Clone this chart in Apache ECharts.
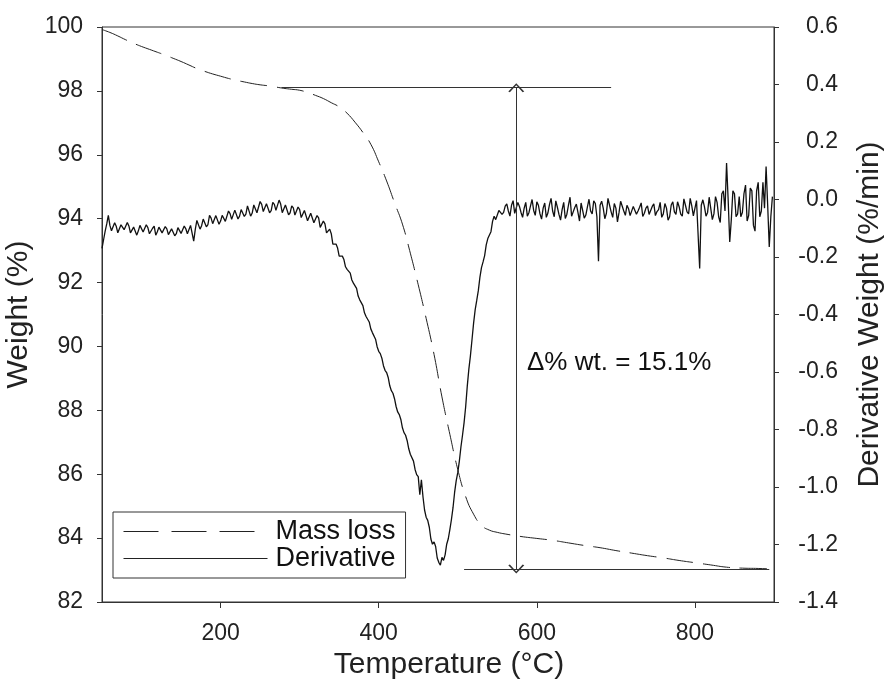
<!DOCTYPE html>
<html>
<head>
<meta charset="utf-8">
<script src="https://cdn.jsdelivr.net/npm/echarts@6/dist/echarts.min.js"></script>
<style>
  html, body { margin: 0; padding: 0; background: #fff; }
  #chart { width: 888px; height: 692px; }
</style>
</head>
<body>
<div id="chart"></div>
<script>
// mass loss curve (dashed), weight % vs temperature
const massTemps = [50, 60, 70, 80, 90, 100, 110, 120, 130, 140, 150, 160, 170, 180, 190, 200,
  210, 220, 230, 240, 250, 260, 270, 280, 290, 300, 310, 320, 330, 340, 350, 360, 370, 380,
  390, 400, 410, 420, 430, 440, 450, 460, 470, 480, 490, 500, 510, 520, 530, 540, 550, 560,
  580, 600, 620, 640, 660, 680, 700, 720, 740, 760, 780, 800, 820, 840, 860, 880, 900];
const massWeights = [99.92, 99.83, 99.72, 99.60, 99.49, 99.39, 99.30, 99.21, 99.12, 99.02,
  98.92, 98.81, 98.70, 98.61, 98.53, 98.46, 98.39, 98.33, 98.28, 98.23, 98.19, 98.16, 98.12,
  98.08, 98.05, 98.02, 97.95, 97.86, 97.76, 97.63, 97.50, 97.30, 97.02, 96.70, 96.33, 95.78,
  95.18, 94.50, 93.83, 92.92, 91.93, 90.88, 89.75, 88.42, 87.25, 86.15, 85.30, 84.75, 84.40,
  84.25, 84.18, 84.13, 84.05, 83.99, 83.93, 83.85, 83.77, 83.70, 83.61, 83.53, 83.45, 83.38,
  83.30, 83.23, 83.16, 83.09, 83.06, 83.05, 83.03];

// derivative weight (%/min), read every 4 degC from 50 degC ...
const derivStartT = 50;
const derivStepT = 4;
const derivValues = [
  -0.170, -0.110, -0.055, -0.109, -0.081, -0.116, -0.088, -0.105, -0.080, -0.116,
  -0.096, -0.124, -0.090, -0.113, -0.088, -0.119, -0.100, -0.124, -0.096, -0.116,
  -0.094, -0.122, -0.102, -0.126, -0.098, -0.118, -0.092, -0.119, -0.090, -0.145,
  -0.073, -0.103, -0.068, -0.095, -0.055, -0.084, -0.056, -0.086, -0.055, -0.076,
  -0.040, -0.069, -0.037, -0.068, -0.035, -0.059, -0.022, -0.058, -0.019, -0.046,
  -0.007, -0.042, -0.015, -0.046, -0.010, -0.038, -0.002, -0.046, -0.019, -0.053,
  -0.022, -0.054, -0.026, -0.063, -0.038, -0.074, -0.048, -0.081, -0.056, -0.097,
  -0.075, -0.116, -0.103, -0.155, -0.155, -0.197, -0.197, -0.234, -0.243, -0.280,
  -0.293, -0.336, -0.354, -0.394, -0.412, -0.450, -0.469, -0.512, -0.536, -0.578,
  -0.602, -0.648, -0.674, -0.720, -0.748, -0.794, -0.820, -0.867, -0.892, -0.939,
  -0.964, -0.975, -1.080, -1.116, -1.181, -1.191, -1.247, -1.272, -1.255, -1.199,
  -1.148, -1.072, -0.979, -0.910, -0.820, -0.721, -0.591, -0.488, -0.384, -0.317,
  -0.237, -0.195, -0.136, -0.112, -0.058, -0.064, -0.034, -0.045,
  -0.015, -0.058, -0.004, -0.052, -0.024, -0.062, -0.010, -0.046, 0.000, -0.055,
  -0.020, -0.068, -0.012, -0.047, 0.004, -0.060, -0.027, -0.072, -0.010, -0.051,
  0.008, -0.043, -0.016, -0.075, -0.006, -0.054, 0.001, -0.050, -0.014, -0.215,
  -0.006, -0.067, 0.004, -0.043, -0.014, -0.078, -0.006, -0.040, -0.020, -0.056,
  -0.024, -0.051, -0.027, -0.059, -0.030, -0.052, -0.024, -0.056, -0.035, -0.062,
  -0.014, -0.072, -0.019, -0.043, -0.008, -0.051, 0.002, -0.043, 0.004, -0.057,
  -0.004, -0.240, -0.001, -0.058, 0.008, -0.070, 0.010, -0.060, 0.020, -0.040,
  0.000, -0.070, 0.020, -0.050, -0.060, 0.020, -0.075, 0.040, -0.090, 0.030,
  -0.060, 0.060, 0.115, -0.165, 0.010
];
// ... and the readings in between, from 52 degC
const derivMidStartT = 52;
const derivMidValues = [
  -0.140, -0.085, -0.090, -0.105, -0.093, -0.110, -0.087, -0.105, -0.092, -0.113,
  -0.091, -0.109, -0.091, -0.113, -0.098, -0.116, -0.093, -0.112, -0.098, -0.120,
  -0.102, -0.119, -0.098, -0.119, -0.101, -0.123, -0.102, -0.113, -0.089, -0.104,
  -0.076, -0.091, -0.068, -0.087, -0.065, -0.084, -0.058, -0.075, -0.051, -0.071,
  -0.049, -0.066, -0.040, -0.058, -0.032, -0.051, -0.026, -0.047, -0.022, -0.041,
  -0.017, -0.038, -0.016, -0.039, -0.017, -0.037, -0.016, -0.041, -0.022, -0.046,
  -0.029, -0.054, -0.035, -0.061, -0.042, -0.068, -0.052, -0.080, -0.064, -0.094,
  -0.085, -0.117, -0.119, -0.160, -0.169, -0.202, -0.209, -0.243, -0.256, -0.291,
  -0.309, -0.349, -0.369, -0.407, -0.426, -0.463, -0.486, -0.528, -0.552, -0.594,
  -0.619, -0.665, -0.693, -0.739, -0.765, -0.811, -0.839, -0.886, -0.910, -0.957,
  -1.027, -1.034, -1.105, -1.140, -1.199, -1.207, -1.262, -1.245, -1.236, -1.180,
  -1.113, -1.019, -0.950, -0.861, -0.776, -0.650, -0.544, -0.431, -0.351, -0.271,
  -0.217, -0.158, -0.130, -0.076, -0.070, -0.038, -0.052, -0.023,
  -0.040, -0.020, -0.048, -0.010, -0.045, -0.030, -0.058, -0.022, -0.038, -0.008,
  -0.050, -0.030, -0.062, -0.018, -0.040, -0.005, -0.052, -0.035, -0.066, -0.020,
  -0.058, -0.028, -0.045, -0.012, -0.065, -0.026, -0.040, -0.005, -0.060, -0.020,
  -0.030, -0.048, -0.020, -0.062, -0.030, -0.045, -0.010, -0.055, -0.032, -0.060,
  -0.018, -0.040, -0.012, -0.048, -0.022, -0.055, -0.015, -0.042, -0.010, -0.050,
  -0.030, -0.060, -0.008, -0.052, -0.025, -0.058, -0.020, -0.050, -0.022, -0.060,
  -0.010, -0.020, -0.025, -0.045, 0.010, -0.050, -0.010, -0.080, 0.030, 0.127,
  -0.148, 0.030, -0.060, 0.010, -0.045, 0.050, -0.055, 0.030, -0.110, 0.060,
  -0.040, -0.030, -0.020, -0.060
];

// weight-loss annotation
const deltaTop = 98.1;
const deltaBottom = 83.03;
const topLineT = [277, 694];
const bottomLineT = [508, 894];
const arrowT = 574;
const deltaLabel = 'Δ% wt. = 15.1%';

const xTicks = [200, 400, 600, 800];

const FONT = "'Liberation Sans', Arial, sans-serif";
const INK = '#222';
const chevron = 'path://M5,0 L10,9 L9,9.7 L5,2.2 L1,9.7 L0,9 Z';

const massData = massTemps.map((t, i) => [t, massWeights[i]]);
const derivData = [];
derivValues.forEach((v, i) => {
  derivData.push([derivStartT + i * derivStepT, v]);
  if (i < derivMidValues.length) {
    derivData.push([derivMidStartT + i * derivStepT, derivMidValues[i]]);
  }
});

const chart = echarts.init(document.getElementById('chart'));
chart.setOption({
  animation: false,
  backgroundColor: '#fff',
  textStyle: { fontFamily: FONT },
  grid: {
    left: 102, right: 114, top: 27, bottom: 90,
    outerBoundsMode: 'none',
    show: true, borderColor: '#333', borderWidth: 1,
  },
  legend: {
    orient: 'vertical',
    left: 113,
    top: 512,
    padding: [6, 10, 6, 10],
    borderColor: '#333',
    borderWidth: 1,
    itemWidth: 144,
    itemHeight: 27,
    itemGap: 0,
    selectedMode: false,
    itemStyle: { opacity: 0 },
    textStyle: { fontSize: 27, fontFamily: FONT, color: '#111', lineHeight: 27, padding: [0, 0, 0, 3] },
    data: [
      { name: 'Mass loss', lineStyle: { type: [35, 13], width: 1, color: '#222' } },
      { name: 'Derivative', lineStyle: { width: 1, color: '#222' } },
    ],
  },
  xAxis: {
    type: 'value',
    min: 50,
    max: 900,
    name: 'Temperature (°C)',
    nameLocation: 'middle',
    nameGap: 48,
    nameTextStyle: { fontSize: 30, color: INK, fontFamily: FONT, padding: [0, 0, 0, 22] },
    axisLine: { onZero: false, lineStyle: { color: '#333' } },
    axisTick: { customValues: xTicks, length: 6, lineStyle: { color: '#333' } },
    axisLabel: { customValues: xTicks, fontSize: 23, color: INK, margin: 20 },
    splitLine: { show: false },
  },
  yAxis: [{
    type: 'value',
    min: 82,
    max: 100,
    interval: 2,
    name: 'Weight (%)',
    nameLocation: 'middle',
    nameGap: 57,
    nameTextStyle: { fontSize: 30, color: INK, fontFamily: FONT },
    axisLine: { show: true, onZero: false, lineStyle: { color: '#333' } },
    axisTick: { show: true, length: 5, lineStyle: { color: '#333' } },
    axisLabel: { fontSize: 23, color: INK, margin: 19 },
    splitLine: { show: false },
  }, {
    type: 'value',
    position: 'right',
    min: -1.4,
    max: 0.6,
    interval: 0.2,
    name: 'Derivative Weight (%/min)',
    nameLocation: 'middle',
    nameGap: 81,
    nameTextStyle: { fontSize: 30, color: INK, fontFamily: FONT },
    axisLine: { show: true, onZero: false, lineStyle: { color: '#333' } },
    axisTick: { show: true, length: 5, lineStyle: { color: '#333' } },
    axisLabel: {
      fontSize: 23, color: INK, margin: 64, align: 'right',
      formatter: v => v.toFixed(1),
    },
    splitLine: { show: false },
  }],
  graphic: [{
    type: 'text',
    left: 527,
    top: 350,
    style: { text: deltaLabel, fontSize: 26, fontFamily: FONT, fill: '#111' },
  }],
  series: [{
    name: 'Mass loss',
    type: 'line',
    yAxisIndex: 0,
    data: massData,
    symbol: 'none',
    smooth: true,
    z: 3,
    itemStyle: { color: '#222' },
    lineStyle: { color: '#222', width: 1, type: [27, 10] },
    markLine: {
      silent: true,
      symbol: 'none',
      animation: false,
      label: { show: false },
      lineStyle: { color: '#333', width: 1, type: 'solid' },
      data: [
        [{ coord: [topLineT[0], deltaTop] }, { coord: [topLineT[1], deltaTop] }],
        [{ coord: [bottomLineT[0], deltaBottom] }, { coord: [bottomLineT[1], deltaBottom] }],
        [
          { coord: [arrowT, deltaTop], symbol: chevron, symbolSize: [16, 9] },
          { coord: [arrowT, deltaBottom], symbol: chevron, symbolSize: [16, 9] },
        ],
      ],
    },
  }, {
    name: 'Derivative',
    type: 'line',
    yAxisIndex: 1,
    data: derivData,
    symbol: 'none',
    z: 2,
    itemStyle: { color: '#111' },
    lineStyle: { color: '#111', width: 1.3 },
  }],
});
</script>
</body>
</html>
